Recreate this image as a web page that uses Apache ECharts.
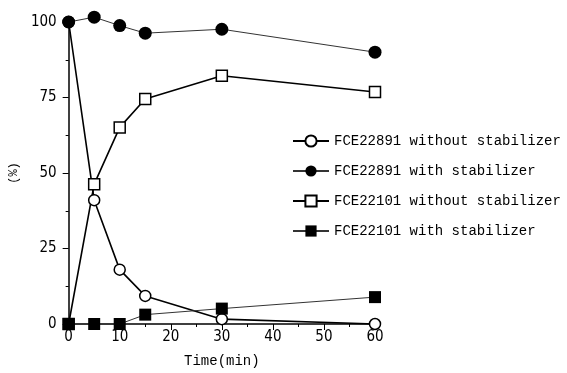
<!DOCTYPE html>
<html>
<head>
<meta charset="utf-8">
<script src="https://cdn.jsdelivr.net/npm/echarts@6/dist/echarts.min.js"></script>
<style>html,body{margin:0;padding:0;background:#fff;}#c{width:567px;height:373px;}</style>
</head>
<body>
<div id="c"></div>
<script>
var times = [0, 5, 10, 15, 30, 60];
var seriesNames = ['FCE22891 without stabilizer', 'FCE22891 with stabilizer', 'FCE22101 without stabilizer', 'FCE22101 with stabilizer'];
var fce22891Without = [100, 41, 18, 9.3, 1.6, 0];
var fce22891With = [100, 101.6, 98.8, 96.3, 97.6, 90.0];
var fce22101Without = [0, 46.3, 65.1, 74.5, 82.2, 76.8];
var fce22101With = [0, 0, 0, 3.1, 5.1, 8.9];

function pairs(vals) { return times.map(function (t, i) { return [t, vals[i]]; }); }

var numFont = '"DejaVu Sans Condensed", "Liberation Sans", sans-serif';
var monoFont = '"Liberation Mono", "DejaVu Sans Mono", monospace';

function mk(name, vals, symbol, filled, lw, lc, size) {
  return {
    name: name, type: 'line', data: pairs(vals), clip: false,
    symbol: symbol, symbolSize: size, showAllSymbol: true,
    lineStyle: { color: lc, width: lw },
    itemStyle: { color: filled ? '#000' : '#fff', borderColor: '#000', borderWidth: filled ? 0 : 1.5 },
    emphasis: { disabled: true }
  };
}

var chart = echarts.init(document.getElementById('c'));
chart.setOption({
  animation: false,
  backgroundColor: '#fff',
  grid: { left: 68, right: 192, top: 22, bottom: 46 },
  legend: {
    orient: 'vertical', left: 287, top: 129, itemWidth: 36, itemHeight: 14, itemGap: 16,
    textStyle: { fontFamily: monoFont, fontSize: 14, color: '#000' },
    data: seriesNames
  },
  xAxis: {
    type: 'value', min: 0, max: 60, interval: 10,
    name: 'Time(min)', nameLocation: 'middle', nameGap: 30,
    nameTextStyle: { fontFamily: monoFont, fontSize: 14, color: '#000' },
    axisLine: { lineStyle: { color: '#000', width: 1.5 } },
    axisTick: { length: 6, lineStyle: { color: '#000', width: 1 } },
    minorTick: { show: true, splitNumber: 2, length: 3, lineStyle: { color: '#000' } },
    axisLabel: { fontFamily: numFont, fontSize: 15, color: '#000', margin: 6 },
    splitLine: { show: false }
  },
  yAxis: {
    type: 'value', min: 0, max: 100, interval: 25,
    name: '(%)', nameLocation: 'middle', nameGap: 40, nameRotate: 90,
    nameTextStyle: { fontFamily: monoFont, fontSize: 12, color: '#000' },
    axisLine: { show: true, lineStyle: { color: '#000', width: 1.5 } },
    axisTick: { show: true, length: 6, lineStyle: { color: '#000', width: 1 } },
    minorTick: { show: true, splitNumber: 2, length: 3, lineStyle: { color: '#000' } },
    axisLabel: { fontFamily: numFont, fontSize: 15, color: '#000', margin: 12 },
    splitLine: { show: false }
  },
  series: [
    mk(seriesNames[0], fce22891Without, 'circle', false, 1.6, '#000', 11),
    mk(seriesNames[1], fce22891With, 'circle', true, 1, '#333', 13),
    mk(seriesNames[2], fce22101Without, 'rect', false, 1.6, '#000', 11),
    mk(seriesNames[3], fce22101With, 'rect', true, 1, '#333', 12)
  ]
});
</script>
</body>
</html>
